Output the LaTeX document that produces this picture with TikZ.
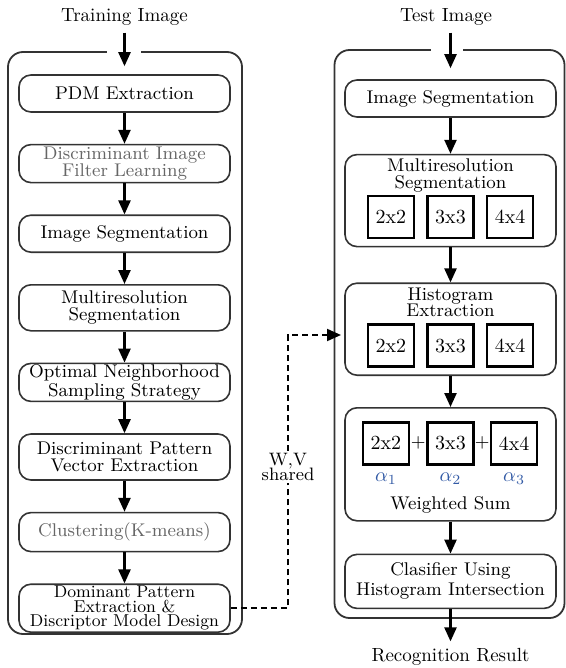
\documentclass[tikz,border=0pt]{standalone}
\usetikzlibrary{arrows.meta,positioning,calc}

\definecolor{alphablue}{RGB}{50,90,165}
\lineskiplimit=-10pt

\begin{document}
\begin{tikzpicture}[
    x=0.5pt, y=-0.5pt,
    node distance=15.5pt,
    font=\fontsize{9.2}{8.3}\selectfont,
    panel/.style={rectangle, draw=black!80, line width=0.9pt, rounded corners=7.5pt},
    stage/.style={rectangle, draw=black!80, line width=0.8pt, rounded corners=6pt, minimum width=105.5pt, text width=104pt, align=center, inner sep=0pt},
    faint/.style={text=black!60},
    inset/.style={align=center, inner sep=0pt},
    cell/.style={rectangle, draw, line width=1.3pt, minimum width=23pt, minimum height=21pt, inner sep=0pt, font=\fontsize{10}{12}\selectfont},
    weight/.style={text=alphablue, inner sep=0pt, font=\fontsize{10}{12}\selectfont},
    heading/.style={font=\fontsize{9.5}{11}\selectfont},
    flow/.style={line width=1.2pt, -{Triangle[length=7pt,width=6pt]}},
    share/.style={line width=1pt, dash pattern=on 3pt off 2pt}
]
\useasboundingbox (0,0) rectangle (566,668);

% Outer frames
\node[panel, minimum width=117pt, minimum height=291pt] (lPanel) at (125,343) {};
\node[panel, minimum width=115pt, minimum height=284pt] (rPanel) at (449.5,334) {};
\fill[white] ($(lPanel.north)+(-18,-3)$) rectangle ++(34,6);
\fill[white] ($(rPanel.north)+(-18.5,-3)$) rectangle ++(32,6);

% Titles
\node[heading] (lTitle) at (124.5,17) {Training Image};
\node[heading] (rTitle) at (446,17) {Test Image};

% Training chain
\node[stage, minimum height=18.5pt] (lPDM) at (124.5,93.5) {PDM Extraction};
\node[stage, faint, minimum height=19pt, below=of lPDM] (lFilter) {Discriminant Image\\Filter Learning};
\node[stage, minimum height=18.5pt, below=of lFilter] (lSeg) {Image Segmentation};
\node[stage, minimum height=23pt, below=of lSeg] (lMulti) {Multiresolution\\Segmentation};
\node[stage, minimum height=19pt, below=of lMulti] (lSample) {Optimal Neighborhood\\Sampling Strategy};
\node[stage, minimum height=23pt, below=of lSample] (lVector) {Discriminant Pattern\\Vector Extraction};
\node[stage, faint, minimum height=19.5pt, below=of lVector] (lCluster) {Clustering(K-means)};
\node[stage, minimum height=24pt, below=of lCluster, font=\fontsize{8.6}{7.2}\selectfont] (lModel) {Dominant Pattern\\Extraction \&\\Discriptor Model Design};

% Test chain
\node[stage, minimum height=18.5pt] (rSeg) at (450.5,98.5) {Image Segmentation};

\node[stage, minimum height=46pt, below=18pt of rSeg] (rMulti) {};
\node[inset, below=2.5pt of rMulti.north] (rMultiT) {Multiresolution\\Segmentation};
\node[cell, above=4pt of rMulti.south] (rMultiB) {3x3};
\node[cell, left=5.5pt of rMultiB] (rMultiA) {2x2};
\node[cell, right=5.5pt of rMultiB] (rMultiC) {4x4};

\node[stage, minimum height=46pt, below=17.5pt of rMulti] (rHist) {};
\node[inset, below=2.5pt of rHist.north] (rHistT) {Histogram\\Extraction};
\node[cell, above=4pt of rHist.south] (rHistB) {3x3};
\node[cell, left=5.5pt of rHistB] (rHistA) {2x2};
\node[cell, right=5.5pt of rHistB] (rHistC) {4x4};

\node[stage, minimum height=56.5pt, below=15.5pt of rHist] (rSum) {};
\node[cell, below=7pt of rSum.north] (rSumB) {3x3};
\node[cell, left=8pt of rSumB] (rSumA) {2x2};
\node[cell, right=7.5pt of rSumB] (rSumC) {4x4};
\node[inner sep=0pt] (plusA) at ($(rSumA.east)!0.5!(rSumB.west)$) {+};
\node[inner sep=0pt] (plusB) at ($(rSumB.east)!0.5!(rSumC.west)$) {+};
\node[weight, below=3.5pt of rSumA] (wA) {$\alpha_1$};
\node[weight, below=3.5pt of rSumB] (wB) {$\alpha_2$};
\node[weight, below=3.5pt of rSumC] (wC) {$\alpha_3$};
\node[inset, above=4pt of rSum.south] (rSumT) {Weighted Sum};

\node[stage, minimum height=27pt, below=16pt of rSum, font=\fontsize{9.2}{10}\selectfont] (rClas) {Clasifier Using\\Histogram Intersection};
\node[heading] (rResult) at (450.5,657) {Recognition Result};

% Flow arrows
\draw[flow, shorten >=4pt] (lTitle) -- (lPDM);
\foreach \a/\b in {lPDM/lFilter, lFilter/lSeg, lSeg/lMulti, lMulti/lSample, lSample/lVector, lVector/lCluster, lCluster/lModel}
    \draw[flow] (\a) -- (\b);
\draw[flow, shorten >=5.5pt] (rTitle.south -| rSeg) -- (rSeg);
\foreach \a/\b in {rSeg/rMulti, rMulti/rHist, rHist/rSum, rSum/rClas}
    \draw[flow] (\a) -- (\b);
\draw[flow] (rClas) -- (rClas |- rResult.north);

% Shared parameters
\coordinate (wvEnd) at (341,335);
\node[inset, fill=white, inner sep=1pt, font=\fontsize{9}{7.6}\selectfont] (wv) at (288,467) {W,V\\shared};
\draw[share] (lModel.east) -| (wv.south);
\draw[share, -{Triangle[length=7pt,width=6pt]}] (wv.north) |- (wvEnd);

\end{tikzpicture}
\end{document}
